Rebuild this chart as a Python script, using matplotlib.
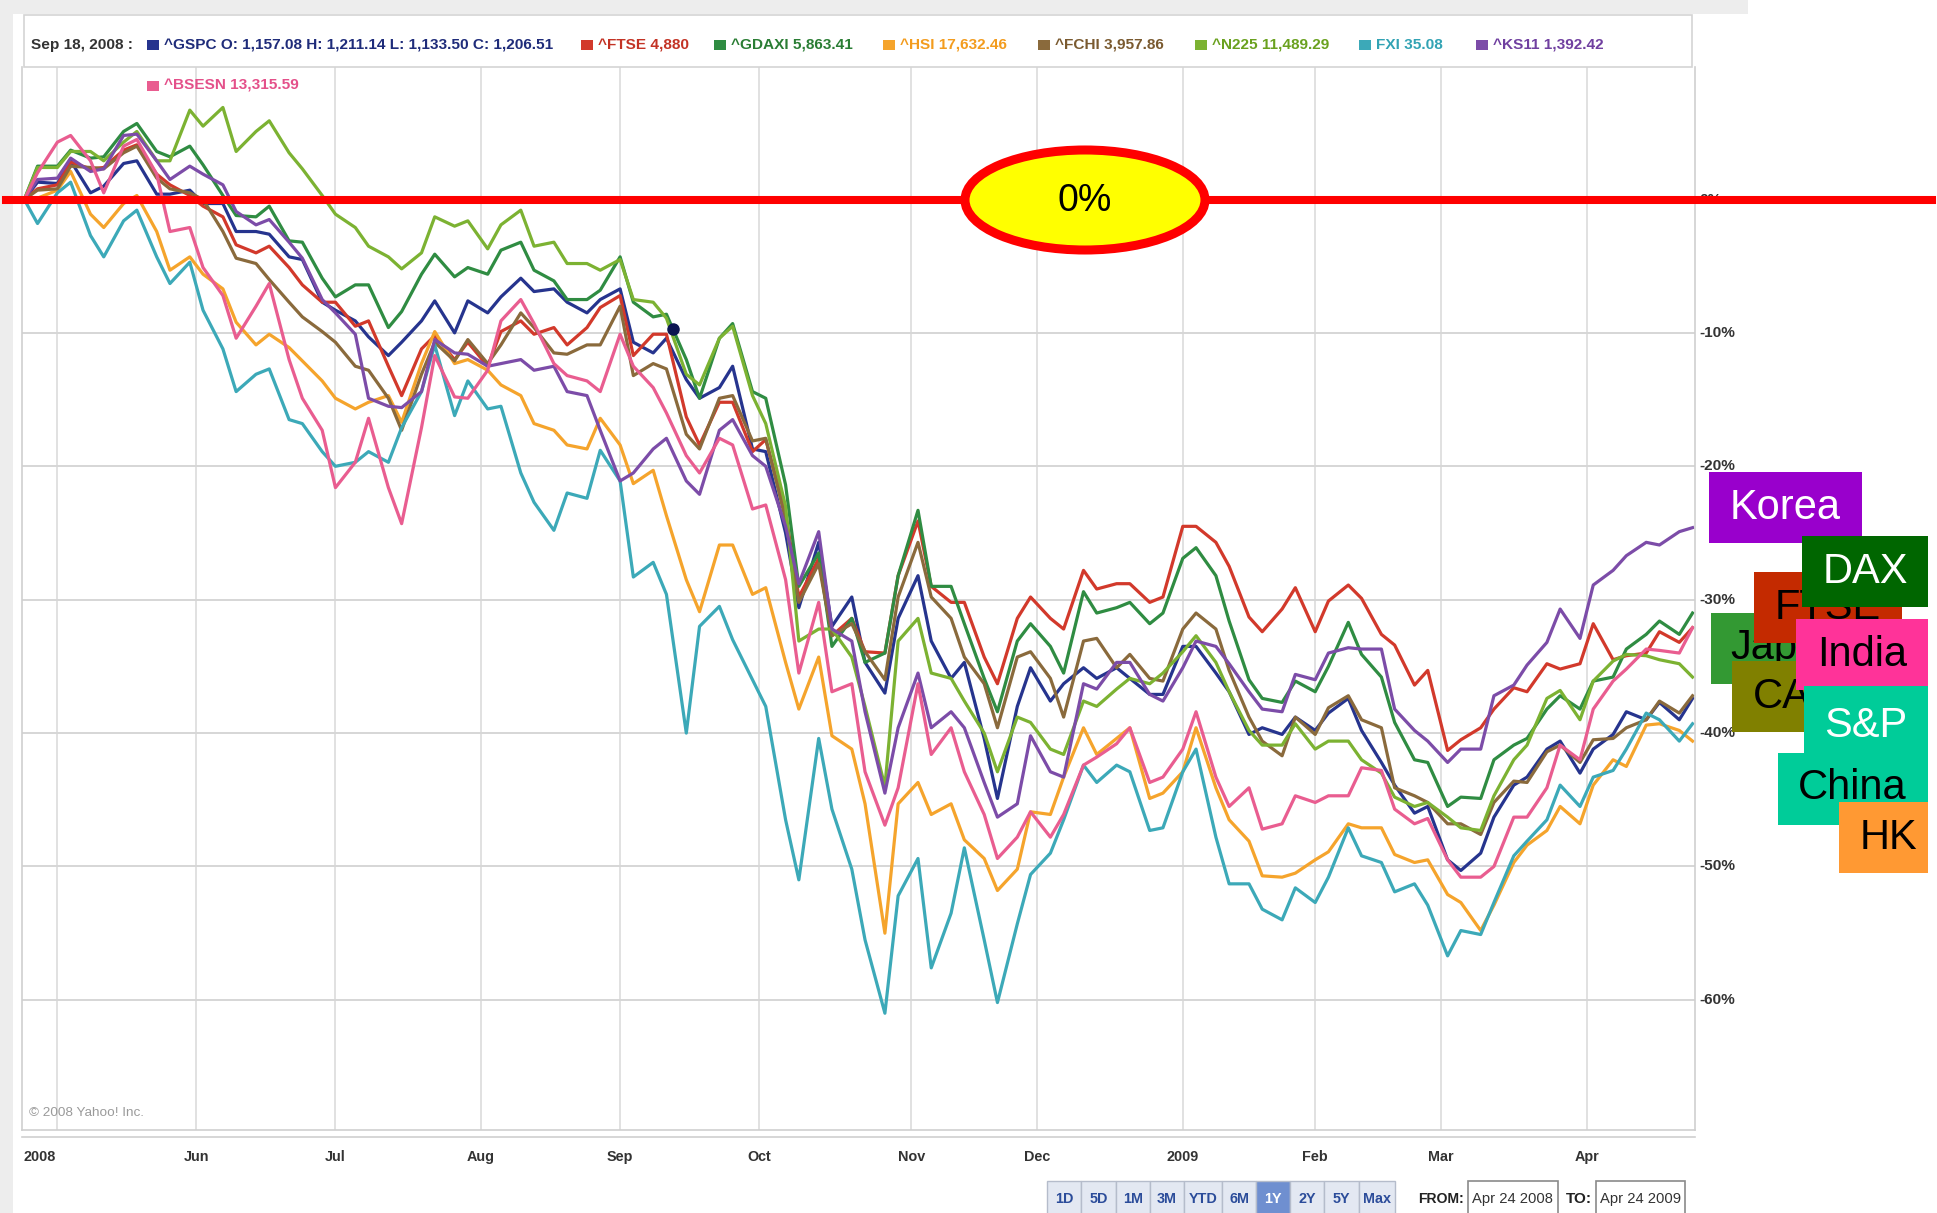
import os
import matplotlib
matplotlib.use('Agg')
import matplotlib.pyplot as plt
from matplotlib import font_manager as fm
from matplotlib.patches import Rectangle, Ellipse
from matplotlib.lines import Line2D
from matplotlib.transforms import blended_transform_factory

W, H, DPI = 1937, 1213, 100

# ---------------- fonts: narrowest available sans for the Yahoo chart texts -------------
names = {f.name for f in fm.fontManager.ttflist}
if 'Liberation Sans Narrow' in names:
    NARROW = 'Liberation Sans Narrow'
elif 'Liberation Sans' in names:
    NARROW = 'Liberation Sans'
else:
    NARROW = 'DejaVu Sans'
SANS = 'Liberation Sans' if 'Liberation Sans' in names else 'DejaVu Sans'

def fpb(size):
    return fm.FontProperties(family=NARROW, weight='bold', size=size)

def fpr(size):
    return fm.FontProperties(family=NARROW, size=size)

# ---------------- data: % change since Apr 24 2008, x = trading-day number -------------
day_a = list(range(0, 251, 5))          # 0, 5, ..., 250
day_b = list(range(2, 253, 5))          # 2, 7, ..., 252

gspc_a = [0, 1.2, 0.5, 2.7, 0.4, 0.7, -0.3, -2.4, -4.3, -7.7, -9.1, -11.7, -9.1, -10.0, -8.5, -5.9, -6.7,
          -8.5, -6.7, -11.5, -13.5, -14.1, -18.7, -25.0, -25.7, -29.8, -37.0, -28.2, -35.9, -40.4, -38.0,
          -37.6, -35.1, -35.1, -37.1, -33.5, -35.5, -40.1, -40.1, -39.8, -37.4, -42.2, -46.0, -49.5, -49.0,
          -43.9, -41.2, -43.0, -40.1, -39.0, -39.0]
gspc_b = [1.3, 2.9, 1.0, 2.9, 0.4, -0.3, -2.4, -2.6, -4.5, -8.3, -10.3, -10.7, -7.6, -7.6, -7.3, -6.9, -7.7,
          -7.5, -10.7, -10.4, -14.9, -12.5, -18.9, -30.6, -32.0, -34.7, -31.4, -33.1, -34.7, -44.9, -35.1,
          -36.3, -35.9, -35.9, -37.1, -33.5, -36.9, -39.6, -38.8, -38.5, -39.8, -43.9, -45.5, -50.3, -46.3,
          -43.3, -40.6, -41.2, -38.4, -37.7, -37.4]
ftse_a = [0, 1.1, 2.3, 3.7, 1.9, 0.3, -1.3, -4.0, -5.1, -7.7, -9.5, -12.5, -11.2, -12.0, -12.5, -9.1, -9.6,
          -9.6, -7.2, -10.1, -16.3, -15.2, -18.9, -23.5, -26.9, -31.4, -34.0, -24.1, -30.2, -34.3, -31.4,
          -31.4, -27.8, -28.8, -30.2, -24.5, -25.7, -31.3, -30.7, -32.4, -28.9, -32.6, -36.4, -41.3, -39.6,
          -36.6, -34.8, -34.8, -34.5, -34.0, -33.2]
ftse_b = [0.8, 2.8, 2.4, 4.1, 1.1, -0.5, -3.4, -3.5, -6.4, -7.7, -9.1, -14.7, -10.2, -10.7, -9.9, -10.1, -10.9,
          -8.1, -11.7, -10.1, -18.4, -15.2, -18.0, -29.8, -32.7, -33.9, -28.2, -29.0, -30.2, -36.3, -29.8,
          -32.2, -29.2, -28.8, -29.8, -24.5, -27.5, -32.4, -29.1, -30.1, -29.9, -33.4, -35.3, -40.5, -38.2,
          -36.9, -35.2, -31.8, -34.2, -32.4, -32.1]
gdaxi_a = [0, 2.5, 3.1, 5.1, 3.6, 4.0, 0.3, -1.3, -3.1, -5.9, -6.4, -9.6, -5.6, -5.8, -5.6, -3.2, -6.1,
           -7.5, -4.3, -8.8, -12.0, -10.4, -14.4, -21.4, -26.5, -31.4, -34.0, -23.3, -29.0, -35.9, -33.1,
           -33.5, -29.4, -30.6, -31.8, -26.9, -28.2, -36.0, -37.7, -36.9, -31.7, -35.8, -42.0, -45.5, -44.9,
           -40.9, -38.2, -38.2, -35.8, -32.6, -32.6]
gdaxi_b = [2.5, 3.7, 3.2, 5.7, 3.2, 2.6, -1.2, -0.5, -3.2, -7.3, -6.4, -8.4, -4.1, -5.1, -3.8, -5.3, -7.5,
           -6.8, -7.7, -8.6, -14.9, -9.3, -14.9, -29.0, -33.5, -34.7, -28.2, -29.0, -31.8, -38.4, -31.8,
           -35.5, -31.0, -30.2, -31.0, -26.1, -31.6, -37.4, -36.1, -35.0, -34.1, -39.2, -42.2, -44.8, -42.0,
           -40.4, -37.2, -36.1, -33.7, -31.6, -31.0]
hsi_a = [0, 0.7, -1.1, -0.3, -2.4, -4.3, -6.7, -10.9, -11.1, -13.6, -15.7, -14.7, -12.3, -12.3, -12.8, -14.7,
         -17.3, -18.7, -18.4, -20.3, -28.5, -25.9, -29.6, -34.7, -34.3, -41.2, -55.0, -43.7, -45.3, -49.4,
         -50.2, -46.1, -39.6, -40.4, -44.9, -42.9, -44.1, -48.1, -50.8, -49.5, -46.8, -47.1, -49.7, -52.1,
         -54.8, -49.7, -47.3, -46.8, -42.0, -39.4, -39.8]
hsi_b = [0.1, 2.1, -2.1, 0.3, -5.3, -5.6, -9.2, -10.1, -12.1, -14.9, -15.2, -16.7, -9.9, -12.0, -13.9, -16.8,
         -18.4, -16.4, -21.3, -23.7, -30.9, -25.9, -29.1, -38.2, -40.2, -45.3, -45.3, -46.1, -48.0, -51.8,
         -45.9, -43.3, -41.6, -39.6, -44.5, -39.6, -46.5, -50.7, -50.5, -48.9, -47.1, -49.1, -49.5, -52.7,
         -52.9, -48.4, -45.5, -43.9, -42.5, -39.3, -40.6]
fchi_a = [0, 0.8, 2.4, 3.5, 1.6, 0.5, -2.4, -4.8, -7.7, -9.9, -12.5, -14.9, -13.1, -12.1, -12.3, -8.5, -11.5,
          -10.9, -8.0, -12.3, -17.6, -14.9, -18.1, -24.0, -27.3, -31.8, -36.0, -25.7, -31.4, -36.3, -34.3,
          -35.9, -33.1, -35.1, -35.9, -32.2, -32.2, -38.8, -41.7, -40.1, -37.2, -39.6, -44.7, -46.8, -47.6,
          -43.6, -41.4, -42.2, -40.4, -39.0, -38.5]
fchi_b = [0.7, 2.5, 2.3, 4.0, 0.8, 0.0, -4.4, -6.0, -8.8, -10.7, -12.8, -17.3, -10.7, -10.5, -10.9, -9.6,
          -11.6, -10.9, -13.2, -12.7, -18.7, -14.7, -17.9, -30.2, -32.7, -33.9, -29.8, -29.8, -34.3, -39.6,
          -33.9, -38.8, -32.9, -34.1, -36.1, -31.0, -35.3, -40.6, -38.8, -38.1, -39.0, -44.1, -45.2, -46.8,
          -45.2, -43.7, -40.9, -40.5, -39.6, -37.6, -37.2]
n225_a = [0, 2.4, 3.6, 4.3, 2.9, 6.7, 6.9, 5.1, 3.5, 0.3, -2.1, -4.3, -4.0, -2.0, -3.7, -0.8, -3.2, -4.8,
          -4.5, -7.7, -13.1, -10.4, -14.7, -23.0, -32.2, -34.3, -44.0, -31.4, -35.9, -40.0, -38.8, -41.2,
          -37.6, -36.7, -36.3, -33.9, -34.7, -39.8, -40.9, -41.2, -40.6, -43.0, -45.5, -46.3, -47.3, -42.0,
          -37.4, -39.0, -34.6, -34.2, -34.8]
n225_b = [2.4, 3.6, 2.9, 5.1, 2.9, 5.5, 3.6, 5.9, 2.3, -1.1, -3.5, -5.2, -1.3, -1.6, -1.9, -3.5, -4.8, -5.3,
          -7.5, -8.9, -13.9, -9.5, -16.8, -33.1, -32.2, -38.0, -33.1, -35.5, -37.6, -42.9, -39.2, -41.6,
          -38.0, -35.9, -35.5, -32.7, -36.9, -40.9, -39.3, -40.6, -42.0, -44.8, -45.2, -47.1, -44.7, -40.9,
          -36.8, -36.1, -34.1, -34.5, -35.8]
fxi_a = [0, 0.5, -2.7, -1.6, -4.3, -4.7, -11.2, -13.1, -16.5, -18.9, -19.7, -19.7, -14.4, -16.2, -15.7, -20.5,
         -24.8, -22.4, -21.1, -27.2, -40.0, -30.5, -36.0, -46.5, -40.4, -50.2, -61.0, -49.4, -53.5, -55.5,
         -54.3, -49.0, -42.4, -42.4, -47.3, -42.9, -47.8, -51.3, -54.0, -52.7, -47.1, -49.7, -51.3, -56.7,
         -55.1, -49.2, -46.5, -45.5, -42.8, -38.5, -40.6]
fxi_b = [-1.8, 1.3, -4.3, -0.8, -6.3, -8.3, -14.4, -12.7, -16.8, -20.0, -18.9, -17.1, -10.9, -13.6, -15.5,
         -22.7, -22.0, -18.8, -28.3, -29.6, -32.0, -33.0, -38.0, -51.0, -45.7, -55.5, -52.2, -57.6, -48.6,
         -60.2, -50.6, -46.5, -43.7, -42.9, -47.1, -41.2, -51.3, -53.2, -51.6, -50.8, -49.2, -51.9, -52.9,
         -54.8, -52.7, -48.1, -43.9, -43.3, -41.2, -39.0, -39.3]
ks11_a = [0, 1.6, 2.1, 4.8, 2.9, 2.5, 1.1, -1.9, -3.2, -7.5, -10.1, -15.5, -14.4, -11.5, -12.5, -12.0, -12.5,
          -14.7, -21.1, -18.7, -21.1, -17.3, -19.2, -24.5, -24.9, -33.1, -44.5, -35.5, -38.4, -43.7, -45.3,
          -42.9, -36.3, -34.7, -37.1, -35.1, -33.5, -36.9, -38.4, -36.0, -33.6, -33.7, -39.8, -42.2, -41.2,
          -36.4, -33.2, -32.9, -27.8, -25.7, -24.9]
ks11_b = [1.5, 3.1, 2.3, 4.9, 1.5, 1.9, -0.9, -1.5, -4.4, -8.5, -14.9, -15.6, -10.5, -11.6, -12.3, -12.8,
          -14.4, -17.3, -20.5, -17.9, -22.1, -16.5, -20.0, -28.8, -32.2, -38.4, -39.6, -39.6, -39.6, -46.3,
          -40.2, -43.3, -36.7, -34.7, -37.6, -33.1, -34.8, -38.2, -35.6, -34.0, -33.7, -38.2, -40.6, -41.2,
          -37.2, -34.9, -30.7, -28.9, -26.7, -25.9, -24.6]
bsesn_a = [0, 4.3, 2.9, 4.0, 1.9, -2.1, -7.2, -8.0, -12.0, -17.3, -19.7, -21.6, -17.1, -14.8, -12.8, -7.5,
           -12.3, -13.6, -10.1, -14.1, -19.2, -17.9, -23.2, -28.5, -30.2, -36.3, -46.9, -36.3, -39.6, -46.1,
           -47.8, -47.8, -42.4, -40.8, -43.7, -41.2, -43.3, -44.1, -46.8, -45.2, -44.7, -42.8, -46.8, -49.5,
           -50.8, -46.3, -44.1, -42.0, -36.1, -33.7, -34.0]
bsesn_b = [2.0, 4.8, 0.5, 4.5, -2.4, -5.1, -10.4, -6.3, -14.9, -21.6, -16.4, -24.3, -11.7, -14.9, -9.1, -9.3,
           -13.2, -14.4, -12.5, -16.0, -20.5, -18.4, -22.9, -35.5, -36.9, -42.9, -44.1, -41.6, -42.9, -49.4,
           -45.9, -46.1, -41.8, -39.6, -43.3, -38.4, -45.5, -47.2, -44.7, -44.7, -42.6, -45.7, -46.4, -50.8,
           -50.0, -46.3, -40.9, -38.2, -35.2, -33.8, -32.1]

hover_day, hover_value = 98, -9.7

month_labels = ['2008', 'Jun', 'Jul', 'Aug', 'Sep', 'Oct', 'Nov', 'Dec', '2009', 'Feb', 'Mar', 'Apr']
month_start_day = [5, 26, 47, 69, 90, 111, 134, 153, 175, 195, 214, 236]
y_ticks = [0, -10, -20, -30, -40, -50, -60]

header_date = 'Sep 18, 2008 :'
legend_labels = ['^GSPC O: 1,157.08 H: 1,211.14 L: 1,133.50 C: 1,206.51', '^FTSE 4,880',
                 '^GDAXI 5,863.41', '^HSI 17,632.46', '^FCHI 3,957.86', '^N225 11,489.29',
                 'FXI 35.08', '^KS11 1,392.42', '^BSESN 13,315.59']
series_a = [gspc_a, ftse_a, gdaxi_a, hsi_a, fchi_a, n225_a, fxi_a, ks11_a, bsesn_a]
series_b = [gspc_b, ftse_b, gdaxi_b, hsi_b, fchi_b, n225_b, fxi_b, ks11_b, bsesn_b]
line_colors = ['#26348E', '#D2392B', '#2F8C42', '#F5A42C', '#8A6A3C', '#7CB232', '#3CA9B8', '#7C4CA8', '#E95D90']
text_colors = ['#1F2C7A', '#C33325', '#2A7D34', '#F39C1E', '#7A5A30', '#6AA11F', '#32A3B4', '#7040A0', '#E4508A']

tag_labels = ['Korea', 'Japan', 'FTSE', 'DAX', 'CAC', 'India', 'S&P', 'China', 'HK']
tag_colors = ['#9900CC', '#339933', '#C42A00', '#006600', '#808000', '#FF3399', '#00CC99', '#00CC99', '#FF9933']
tag_text_colors = ['white', 'black', 'black', 'white', 'black', 'black', 'white', 'black', 'black']

buttons = ['1D', '5D', '1M', '3M', 'YTD', '6M', '1Y', '2Y', '5Y', 'Max']
selected_button = '1Y'
date_from, date_to = 'Apr 24 2008', 'Apr 24 2009'
copyright_text = '\u00a9 2008 Yahoo! Inc.'

# ---------------- figure ----------------
fig = plt.figure(figsize=(W / DPI, H / DPI), dpi=DPI)
fig.patch.set_facecolor('white')
renderer = fig.canvas.get_renderer()

def fx(x):
    return x / W

def fy(y):
    return 1 - y / H

def fit(t, width_px):
    bb = t.get_window_extent(renderer=renderer)
    if bb.width > 0:
        t.set_fontsize(t.get_fontsize() * width_px / bb.width)
    return t.get_fontsize()

TF = fig.transFigure
fig.add_artist(Rectangle((0, fy(14)), fx(1748), 14 / H, transform=TF, facecolor='#EDEDED',
                         edgecolor='none', zorder=0))
fig.add_artist(Rectangle((0, 0), fx(13), 1, transform=TF, facecolor='#EDEDED',
                         edgecolor='none', zorder=0))

AX_L, AX_R, AX_T, AX_B = 22, 1695, 67, 1130
ax = fig.add_axes([fx(AX_L), fy(AX_B), (AX_R - AX_L) / W, (AX_B - AX_T) / H])
PX_DAY, X_ORIGIN = 6.62, 24.3
PX_PCT, Y_ZERO = 13.34, 199.5
ax.set_xlim((AX_L - X_ORIGIN) / PX_DAY, (AX_R - X_ORIGIN) / PX_DAY)
ax.set_ylim((Y_ZERO - AX_B) / PX_PCT, (Y_ZERO - AX_T) / PX_PCT)
ax.set_facecolor('white')
ax.set_xticks([])
ax.set_yticks([])
for s in ax.spines.values():
    s.set_color('#CFCFCF')
    s.set_linewidth(1.2)
ax.spines['top'].set_visible(False)

for d in month_start_day:
    ax.axvline(d, color='#DCDCDC', lw=1.2, zorder=0)
for v in y_ticks[1:]:
    ax.axhline(v, color='#D6D6D6', lw=1.4, zorder=0)

for va, vb, c in zip(series_a, series_b, line_colors):
    pts = sorted(zip(day_a + day_b, va + vb))
    ax.plot([p[0] for p in pts], [p[1] for p in pts], color=c, lw=2.3, zorder=2,
            solid_joinstyle='round')

ax.plot([hover_day], [hover_value], 'o', color='#0B1552', ms=8, zorder=4)

# y labels on the right
ytr = blended_transform_factory(ax.transAxes, ax.transData)
xr = (1699 - AX_L) / (AX_R - AX_L)
probe = ax.text(xr, -10, '-10%', transform=ytr, fontproperties=fpb(13))
ysize = fit(probe, 36)
probe.remove()
for v in y_ticks:
    ax.text(xr, v, f'{v}%', transform=ytr, ha='left', va='center', fontproperties=fpb(ysize),
            color='#333333', clip_on=False, zorder=3)

# month labels
xtr = ax.get_xaxis_transform()
ylab = (AX_B - 1157) / (AX_B - AX_T)
x_left = ax.get_xlim()[0]
probe = ax.text(0, ylab, '2008', transform=xtr, fontproperties=fpb(13))
msize = fit(probe, 32)
probe.remove()
for i, (d, lab) in enumerate(zip(month_start_day, month_labels)):
    if i == 0:
        ax.text(x_left + 0.3, ylab, lab, transform=xtr, ha='left', va='center',
                fontproperties=fpb(msize), color='#333333', clip_on=False)
    else:
        ax.text(d, ylab, lab, transform=xtr, ha='center', va='center',
                fontproperties=fpb(msize), color='#333333', clip_on=False)

fig.add_artist(Line2D([fx(AX_L), fx(AX_R)], [fy(1137), fy(1137)], transform=TF,
                      color='#D0D0D0', lw=1.2, zorder=1))

t = fig.text(fx(29), fy(1113), copyright_text, ha='left', va='center', fontproperties=fpr(11),
             color='#9A9A9A', zorder=3)
fit(t, 114)

# zero line across the page
span = AX_R - AX_L
ax.axhline(0, xmin=(6 - AX_L) / span, xmax=(1932 - AX_L) / span, color='#FF0000', lw=5.8,
           clip_on=False, zorder=5)

# legend header (one common font size, fitted on the long ^GSPC entry)
fig.add_artist(Rectangle((fx(24), fy(67)), (1692 - 24) / W, (67 - 15) / H, transform=TF,
                         facecolor='white', edgecolor='#D4D4D4', lw=1.2, zorder=1))
probe = fig.text(0, 0, legend_labels[0], fontproperties=fpb(12))
lsize = fit(probe, 388)
probe.remove()
fig.text(fx(31), fy(45), header_date, ha='left', va='center', fontproperties=fpb(lsize),
         color='#333333', zorder=2)
text_x = [164, 598, 731, 900, 1055, 1212, 1376, 1493, 164]
row_y = [45, 45, 45, 45, 45, 45, 45, 45, 86]
for lab, tc, lc, tx, ry in zip(legend_labels, text_colors, line_colors, text_x, row_y):
    fig.add_artist(Rectangle((fx(tx - 17), fy(ry + 5)), 12 / W, 10 / H, transform=TF,
                             facecolor=lc, edgecolor='none', zorder=2))
    fig.text(fx(tx), fy(ry), lab, ha='left', va='center', fontproperties=fpb(lsize),
             color=tc, zorder=2)

# 0% ellipse
fig.add_artist(Ellipse((fx(1085), fy(200)), 240 / W, 100 / H, transform=TF,
                       facecolor='#FFFF00', edgecolor='#FF0000', lw=6.5, zorder=6))
fig.text(fx(1085), fy(201), '0%', ha='center', va='center', fontsize=27, family=SANS,
         color='black', zorder=7)

# coloured region tags: (left, top, right, bottom, text centre x, text centre y)
tag_boxes = [(1709, 472, 1862, 543, 1785, 508),
             (1711, 613, 1863, 684, 1787, 648),
             (1754, 572, 1902, 643, 1828, 608),
             (1802, 536, 1928, 607, 1865, 572),
             (1732, 661, 1862, 732, 1797, 697),
             (1796, 619, 1928, 690, 1862, 655),
             (1804, 686, 1928, 753, 1866, 726),
             (1778, 753, 1928, 825, 1852, 788),
             (1839, 802, 1928, 873, 1888, 838)]
for k, (lab, bc, tcol, box) in enumerate(zip(tag_labels, tag_colors, tag_text_colors, tag_boxes)):
    l, tp, r, b, cx, cy = box
    z = 10 + 2 * k
    fig.add_artist(Rectangle((fx(l), fy(b)), (r - l) / W, (b - tp) / H, transform=TF,
                             facecolor=bc, edgecolor='none', zorder=z))
    fig.text(fx(cx), fy(cy), lab, ha='center', va='center', fontsize=30, family=SANS,
             color=tcol, zorder=z + 1)

# range buttons
bx = [1047, 1081, 1116, 1150, 1184, 1222, 1256, 1290, 1324, 1359, 1395]
probe = fig.text(0, 0, 'Max', fontproperties=fpb(12))
bsize = fit(probe, 28)
probe.remove()
for i, lab in enumerate(buttons):
    l, r = bx[i], bx[i + 1]
    sel = lab == selected_button
    fig.add_artist(Rectangle((fx(l), fy(1216)), (r - l) / W, (1216 - 1181) / H, transform=TF,
                             facecolor='#6F8FD0' if sel else '#E3E8F2', edgecolor='#B5BCCB',
                             lw=1, zorder=2))
    fig.text(fx((l + r) / 2), fy(1199), lab, ha='center', va='center', fontproperties=fpb(bsize),
             color='white' if sel else '#2B4C9A', zorder=3)

t = fig.text(fx(1418), fy(1199), 'FROM:', ha='left', va='center', fontproperties=fpb(13),
             color='#222222')
fit(t, 46)
t = fig.text(fx(1566), fy(1199), 'TO:', ha='left', va='center', fontproperties=fpb(13),
             color='#222222')
fit(t, 26)
for (l, r), txt in zip([(1468, 1558), (1596, 1685)], [date_from, date_to]):
    fig.add_artist(Rectangle((fx(l), fy(1216)), (r - l) / W, (1216 - 1181) / H, transform=TF,
                             facecolor='white', edgecolor='#8A8A8A', lw=1.2, zorder=2))
    t = fig.text(fx(l + 4), fy(1199), txt, ha='left', va='center', fontproperties=fpr(11),
                 color='#333333', zorder=3)
    fit(t, 80)

fig.savefig('out.png', dpi=DPI, facecolor='white')
